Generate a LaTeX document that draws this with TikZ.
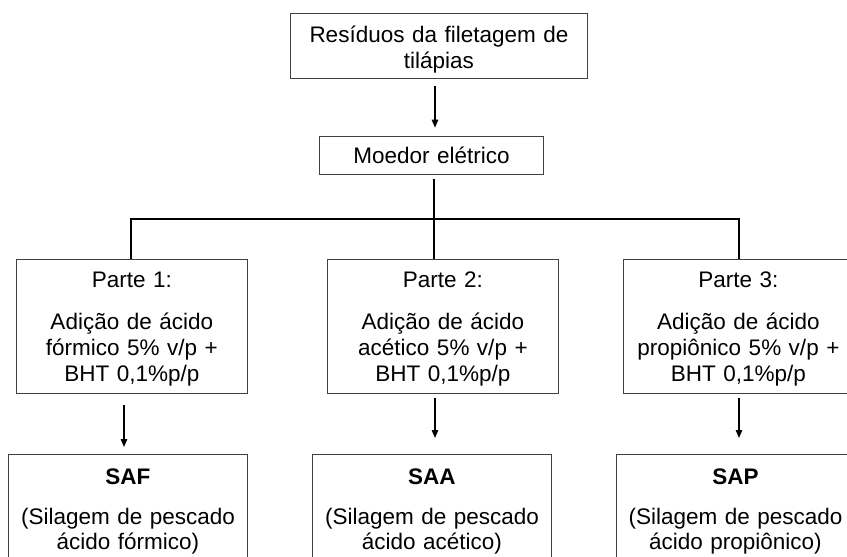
\documentclass[tikz,border=0pt]{standalone}
\usepackage{fontspec}
\setmainfont{Liberation Sans}
\usetikzlibrary{arrows.meta,calc}
\begin{document}
\begin{tikzpicture}[x=1pt,y=-1pt,
  font=\fontsize{22.5}{26}\selectfont,
  box/.style={draw=black!75, line width=0.9pt, inner sep=0pt, align=center, anchor=north west},
  ln/.style={line width=1.4pt, draw=black},
  arr/.style={ln, -{Triangle[width=6.5pt,length=8pt]}}]
\useasboundingbox (0,0) rectangle (847,557);
\clip (0,0) rectangle (847,557);
\fill[white] (0,0) rectangle (847,557);
% boxes
\node[box, text width=297pt, text height=29.3pt, text depth=36pt] (T) at (290,12.7)
  {Resíduos da filetagem de\\tilápias};
\node[box, text width=224pt, text height=27.3pt, text depth=11pt] (M) at (319,135.7)
  {Moedor elétrico};
\node[box, text width=231.3pt, text height=29pt, text depth=105.5pt] (P1) at (15.7,258.5)
  {Parte 1:\\[15.5pt]Adição de ácido\\fórmico 5\% v/p +\\BHT 0,1\%p/p};
\node[box, text width=231pt, text height=29pt, text depth=105.5pt] (P2) at (327,258.5)
  {Parte 2:\\[15.5pt]Adição de ácido\\acético 5\% v/p +\\BHT 0,1\%p/p};
\node[box, text width=230pt, text height=29pt, text depth=105.5pt] (P3) at (623,258.5)
  {Parte 3:\\[15.5pt]Adição de ácido\\propiônico 5\% v/p +\\BHT 0,1\%p/p};
\node[box, font=\fontsize{22.5}{25}\selectfont, text width=239pt, text height=30.4pt, text depth=115.6pt] (SAF) at (8,454)
  {\textbf{SAF}\\[15pt](Silagem de pescado\\ácido fórmico)};
\node[box, font=\fontsize{22.5}{25}\selectfont, text width=239pt, text height=30.4pt, text depth=115.6pt] (SAA) at (312,454)
  {\textbf{SAA}\\[15pt](Silagem de pescado\\ácido acético)};
\node[box, font=\fontsize{22.5}{25}\selectfont, text width=238pt, text height=30.4pt, text depth=115.6pt] (SAP) at (616,454)
  {\textbf{SAP}\\[15pt](Silagem de pescado\\ácido propiônico)};
% helper coordinates
\coordinate (cT) at (435,0);
\coordinate (cM) at (434,0);
\coordinate (hl) at (131,219);
\coordinate (hr) at (739,219);
\coordinate (c1) at (124,0);
\coordinate (c2) at (435,0);
\coordinate (c3) at (739,0);
% connectors
\draw[arr] ([yshift=-7pt]T.south -| cT) -- ([yshift=8pt]M.north -| cT);
\draw[ln] ([yshift=-4pt]M.south -| cM) -- (P2.north -| cM);
\draw[ln] (P1.north -| hl) -- (hl) -- (hr) -- (P3.north -| hr);
\draw[arr] ([yshift=-11pt]P1.south -| c1) -- ([yshift=7pt]SAF.north -| c1);
\draw[arr] ([yshift=-4pt]P2.south -| c2) -- ([yshift=16pt]SAA.north -| c2);
\draw[arr] ([yshift=-4pt]P3.south -| c3) -- ([yshift=16pt]SAP.north -| c3);
\end{tikzpicture}
\end{document}
